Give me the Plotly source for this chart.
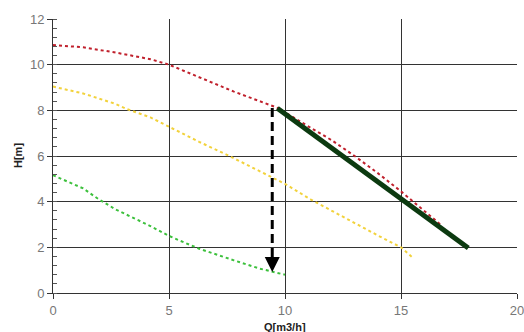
import plotly.graph_objects as go

# Pump curves
red_q = [0, 1.3, 2.7, 4.2, 5, 5.5, 6.3, 7.8, 9.2, 9.7, 11, 12, 13, 14, 15, 15.8, 16.7]
red_h = [10.86, 10.76, 10.53, 10.24, 10.0, 9.8, 9.45, 8.82, 8.3, 8.1, 7.3, 6.7, 6.0, 5.25, 4.45, 3.78, 3.0]

yel_q = [0, 1.3, 2.7, 3.2, 4.2, 5, 5.4, 6.3, 7.5, 8.6, 10, 11.1, 12, 13, 14, 15, 15.5]
yel_h = [9.04, 8.74, 8.28, 8.05, 7.69, 7.28, 7.06, 6.62, 6.05, 5.5, 4.78, 4.1, 3.6, 3.05, 2.52, 2.0, 1.55]

grn_q = [0, 1.3, 1.95, 2.7, 4.2, 5, 5.5, 6.3, 7.8, 8.9, 10]
grn_h = [5.16, 4.58, 4.12, 3.66, 2.93, 2.5, 2.28, 1.94, 1.43, 1.07, 0.8]

# Thick regulation line
reg_q = [9.67, 17.9]
reg_h = [8.09, 1.97]

# Dashed arrow
arr_q = [9.45, 9.45]
arr_h = [8.1, 0.92]

x_ticks = [0, 5, 10, 15, 20]
y_ticks = [0, 2, 4, 6, 8, 10, 12]

fig = go.Figure()
fig.add_trace(go.Scatter(x=red_q, y=red_h, mode="lines",
                         line=dict(color="#c0202c", width=2, dash="dot")))
fig.add_trace(go.Scatter(x=yel_q, y=yel_h, mode="lines",
                         line=dict(color="#f2d23c", width=2, dash="dot")))
fig.add_trace(go.Scatter(x=grn_q, y=grn_h, mode="lines",
                         line=dict(color="#3cc03c", width=2, dash="dot")))
fig.add_trace(go.Scatter(x=reg_q, y=reg_h, mode="lines",
                         line=dict(color="#0c3a10", width=5)))
fig.add_trace(go.Scatter(x=arr_q, y=[arr_h[0], arr_h[1] + 0.5], mode="lines",
                         line=dict(color="black", width=3, dash="9px,5px")))
fig.add_annotation(x=arr_q[1], y=arr_h[1], ax=0, ay=-14, xref="x", yref="y",
                   showarrow=True, arrowhead=2, arrowsize=1.2, arrowwidth=2.5,
                   arrowcolor="black", text="")

fig.add_annotation(text="<b>Q[m3/h]</b>", xref="paper", yref="paper", x=0.5, y=0,
                   xanchor="center", yanchor="top", yshift=-26, showarrow=False,
                   font=dict(size=11, color="#222222"))
fig.add_annotation(text="<b>H[m]</b>", xref="paper", yref="paper", x=0, y=0.5,
                   xanchor="center", yanchor="middle", xshift=-35, textangle=-90, showarrow=False,
                   font=dict(size=11, color="#222222"))

fig.update_layout(
    width=524, height=332,
    margin=dict(l=53, r=7, t=19, b=39, autoexpand=False),
    paper_bgcolor="white", plot_bgcolor="white",
    showlegend=False,
    font=dict(family="Liberation Sans, Arial, sans-serif", color="#777777", size=13),
)
fig.update_xaxes(range=[0, 20], tickvals=x_ticks, showgrid=True, gridcolor="#333333", gridwidth=1,
                 showline=True, linecolor="#333333", linewidth=1, automargin=False,
                 ticklabeloverflow="allow",
                 ticks="outside", ticklen=5, tickcolor="#333333", zeroline=False)
fig.update_yaxes(range=[0, 12], tickvals=y_ticks, showgrid=True, gridcolor="#333333", gridwidth=1,
                 showline=True, linecolor="#333333", linewidth=1, automargin=False,
                 ticks="outside", ticklen=5, tickcolor="#333333", zeroline=False,
                 minor=dict(dtick=0.4, ticks="inside", ticklen=4, tickcolor="#555555", showgrid=False))

fig.write_html("out.html", config={"displayModeBar": False},
               post_script="document.body.style.margin='0';document.body.style.overflow='hidden';")
